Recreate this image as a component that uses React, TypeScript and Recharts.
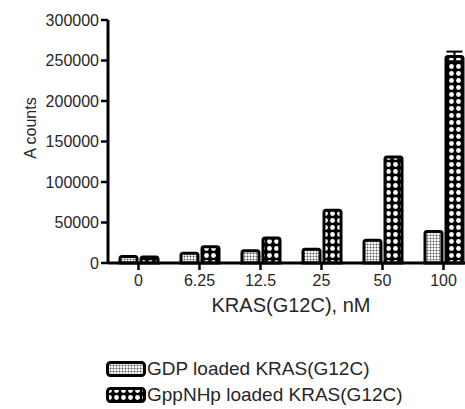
import { BarChart, Bar, XAxis, YAxis, ErrorBar } from "recharts";

const concentrations = ["0", "6.25", "12.5", "25", "50", "100"];
const gdpCounts = [8000, 12000, 15000, 17000, 28000, 39000];
const gppnhpCounts = [7500, 20000, 31000, 65000, 131000, 255000];
const gppnhpErrors = [0, 0, 0, 0, 0, 6000];
const seriesNames = ["GDP loaded KRAS(G12C)", "GppNHp loaded KRAS(G12C)"];
const yTicks = [0, 50000, 100000, 150000, 200000, 250000, 300000];

const data = concentrations.map((c, i) => ({
  conc: c,
  gdp: gdpCounts[i],
  gppnhp: gppnhpCounts[i],
  err: gppnhpErrors[i],
}));

const font = "'Liberation Sans', Arial, sans-serif";
const textColor = "#262626";

function Patterns({ prefix }: { prefix: string }) {
  return (
    <defs>
      <pattern id={`${prefix}-gdp`} width="3" height="3" patternUnits="userSpaceOnUse">
        <rect width="3" height="3" fill="#fff" />
        <circle cx="1.5" cy="1.5" r="1" fill="#555" />
      </pattern>
      <pattern id={`${prefix}-gpp`} width="7" height="7" patternUnits="userSpaceOnUse">
        <rect width="7" height="7" fill="#000" />
        <circle cx="3.5" cy="3.5" r="2.4" fill="#fff" />
      </pattern>
    </defs>
  );
}

function LegendSwatch({ id, kind }: { id: string; kind: string }) {
  return (
    <svg width="40" height="16" style={{ display: "block" }}>
      <Patterns prefix={id} />
      <rect
        x="1.5"
        y="1.5"
        width="37"
        height="13"
        rx="3"
        fill={`url(#${id}-${kind})`}
        stroke="#000"
        strokeWidth="3"
      />
    </svg>
  );
}

export default function App() {
  return (
    <div
      style={{
        position: "fixed",
        left: 0,
        top: 0,
        width: 465,
        height: 409,
        overflow: "hidden",
        background: "#fff",
        fontFamily: font,
      }}
    >
      <BarChart
        width={474}
        height={409}
        data={data}
        margin={{ top: 20, right: 0, left: 0, bottom: 86 }}
        barSize={17}
        barGap={4}
        barCategoryGap={0}
      >
        <Patterns prefix="bar" />
        <XAxis
          dataKey="conc"
          height={60}
          tickSize={7}
          tickMargin={5}
          axisLine={{ stroke: "#000", strokeWidth: 3 }}
          tickLine={{ stroke: "#000", strokeWidth: 2.5 }}
          tick={{ fill: textColor, fontSize: 16, fontFamily: font }}
          label={{
            value: "KRAS(G12C), nM",
            position: "insideBottom",
            offset: 11,
            fill: textColor,
            fontSize: 20,
            fontFamily: font,
          }}
        />
        <YAxis
          width={108}
          domain={[0, 300000]}
          ticks={yTicks}
          interval={0}
          tickSize={7}
          tickMargin={2}
          axisLine={{ stroke: "#000", strokeWidth: 3 }}
          tickLine={{ stroke: "#000", strokeWidth: 2.5 }}
          tick={{ fill: textColor, fontSize: 16, fontFamily: font }}
        />
        <Bar
          dataKey="gdp"
          name={seriesNames[0]}
          fill="url(#bar-gdp)"
          stroke="#000"
          strokeWidth={3}
          radius={[2, 2, 0, 0]}
          isAnimationActive={false}
        />
        <Bar
          dataKey="gppnhp"
          name={seriesNames[1]}
          fill="url(#bar-gpp)"
          stroke="#000"
          strokeWidth={3}
          radius={[2, 2, 0, 0]}
          isAnimationActive={false}
        >
          <ErrorBar dataKey="err" width={8} stroke="#000" strokeWidth={2} direction="y" />
        </Bar>
        <text
          x={30}
          y={128}
          transform="rotate(-90 30 128)"
          textAnchor="middle"
          dominantBaseline="central"
          fill={textColor}
          fontSize={16}
          fontFamily={font}
        >
          A counts
        </text>
      </BarChart>
      <div style={{ position: "absolute", left: 106, top: 356 }}>
        {seriesNames.map((name, i) => (
          <div
            key={name}
            style={{ display: "flex", alignItems: "center", height: 26, gap: 1 }}
          >
            <LegendSwatch id={`lg${i}`} kind={i === 0 ? "gdp" : "gpp"} />
            <span style={{ fontSize: 19, color: textColor, whiteSpace: "nowrap" }}>
              {name}
            </span>
          </div>
        ))}
      </div>
    </div>
  );
}
